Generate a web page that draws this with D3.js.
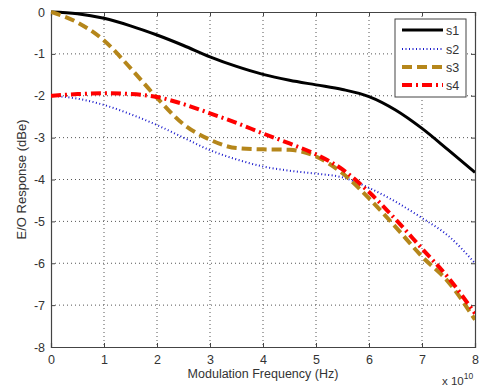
<!DOCTYPE html>
<html>
<head>
<meta charset="utf-8">
<script src="https://cdn.jsdelivr.net/npm/d3@7"></script>
<style>
  body { margin: 0; background: #fff; }
  svg { display: block; font-family: "Liberation Sans", Arial, sans-serif; }
</style>
</head>
<body>
<script>
// frequency in units of 1e10 Hz
const freq = [0, 0.5, 1, 1.5, 2, 2.5, 3, 3.5, 4, 4.5, 5, 5.5, 6, 6.5, 7, 7.5, 8];
const s1 = [0, -0.04, -0.15, -0.33, -0.55, -0.8, -1.07, -1.3, -1.49, -1.63, -1.74, -1.85, -2.02, -2.34, -2.78, -3.3, -3.83];
const s2 = [-2, -2.07, -2.22, -2.44, -2.7, -3.0, -3.3, -3.52, -3.69, -3.79, -3.86, -3.95, -4.2, -4.53, -4.92, -5.35, -6.0];
const s3 = [0, -0.25, -0.68, -1.34, -2.05, -2.68, -3.05, -3.25, -3.28, -3.29, -3.45, -3.85, -4.45, -5.13, -5.84, -6.45, -7.35];
const s4 = [-2, -1.96, -1.94, -1.96, -2.03, -2.2, -2.42, -2.65, -2.9, -3.14, -3.4, -3.76, -4.3, -4.95, -5.65, -6.35, -7.2];
const seriesNames = ['s1', 's2', 's3', 's4'];
const xTicks = [0, 1, 2, 3, 4, 5, 6, 7, 8];
const yTicks = [0, -1, -2, -3, -4, -5, -6, -7, -8];

const W = 483, H = 387;
const pL = 51, pR = 475, pT = 12, pB = 347;

const svg = d3.select('body').append('svg').attr('width', W).attr('height', H);

const x = d3.scaleLinear().domain([0, 8]).range([pL, pR]);
const y = d3.scaleLinear().domain([-8, 0]).range([pB, pT]);

const textColor = '#333';
const axisColor = '#444';

// grid
const grid = svg.append('g');
grid.selectAll('.gx').data(xTicks.slice(1, -1)).enter().append('line')
  .attr('x1', d => x(d)).attr('x2', d => x(d))
  .attr('y1', pT).attr('y2', pB)
  .style('stroke', '#555').style('stroke-width', 1).style('stroke-dasharray', '1,3');
grid.selectAll('.gy').data(yTicks.slice(1, -1)).enter().append('line')
  .attr('x1', pL).attr('x2', pR)
  .attr('y1', d => y(d)).attr('y2', d => y(d))
  .style('stroke', '#555').style('stroke-width', 1).style('stroke-dasharray', '1,3');

// axes (ticks inward)
const xAxis = svg.append('g').attr('transform', `translate(0,${pB})`)
  .call(d3.axisBottom(x).tickValues(xTicks).tickSize(-4).tickPadding(8).tickFormat(d3.format('d')));
const xAxisTop = svg.append('g').attr('transform', `translate(0,${pT})`)
  .call(d3.axisTop(x).tickValues(xTicks).tickSize(-4).tickFormat(''));
const yAxis = svg.append('g').attr('transform', `translate(${pL},0)`)
  .call(d3.axisLeft(y).tickValues(yTicks).tickSize(-4).tickPadding(6).tickFormat(d => d));
const yAxisRight = svg.append('g').attr('transform', `translate(${pR},0)`)
  .call(d3.axisRight(y).tickValues(yTicks).tickSize(-4).tickFormat(''));

[xAxis, xAxisTop, yAxis, yAxisRight].forEach(g => {
  g.select('.domain').style('stroke', axisColor).style('stroke-width', 1.2);
  g.selectAll('.tick line').style('stroke', axisColor);
  g.selectAll('.tick text').style('fill', textColor).style('font-size', '12.5px')
    .style('font-family', '"Liberation Sans", Arial, sans-serif');
});

// series
const lineGen = ys => d3.line()
  .x((d, i) => x(freq[i]))
  .y(d => y(d))
  .curve(d3.curveMonotoneX)(ys);

const styles = [
  { data: s1, color: '#000000', width: 3, dash: null },
  { data: s2, color: '#1a1acc', width: 2, dash: '1,2.5' },
  { data: s3, color: '#b5861a', width: 4, dash: '10,5' },
  { data: s4, color: '#ff0000', width: 4, dash: '10,4,2,4' }
];

const plot = svg.append('g');
plot.append('clipPath').attr('id', 'clip').append('rect')
  .attr('x', pL).attr('y', pT - 2).attr('width', pR - pL).attr('height', pB - pT + 2);

plot.selectAll('path.series').data(styles).enter().append('path')
  .attr('class', 'series')
  .attr('clip-path', 'url(#clip)')
  .attr('d', d => lineGen(d.data))
  .style('fill', 'none')
  .style('stroke', d => d.color)
  .style('stroke-width', d => d.width)
  .style('stroke-dasharray', d => d.dash);

// legend
const legend = svg.append('g');
legend.append('rect').attr('x', 395).attr('y', 19).attr('width', 71).attr('height', 78)
  .style('fill', '#fff').style('stroke', axisColor).style('stroke-width', 1);
const rowY = [30, 49, 67, 85];
styles.forEach((s, i) => {
  legend.append('line')
    .attr('x1', 402).attr('x2', 443).attr('y1', rowY[i]).attr('y2', rowY[i])
    .style('stroke', s.color).style('stroke-width', s.width)
    .style('stroke-dasharray', s.dash);
  legend.append('text')
    .attr('x', 446).attr('y', rowY[i] + 4.5)
    .style('font-size', '12.5px').style('fill', textColor)
    .text(seriesNames[i]);
});

// labels
svg.append('text')
  .attr('x', (pL + pR) / 2).attr('y', 378)
  .attr('text-anchor', 'middle')
  .style('font-size', '12.5px').style('fill', textColor)
  .text('Modulation Frequency (Hz)');

svg.append('text')
  .attr('transform', `translate(26,${(pT + pB) / 2}) rotate(-90)`)
  .attr('text-anchor', 'middle')
  .style('font-size', '13px').style('fill', textColor)
  .text('E/O Response (dBe)');

const expo = svg.append('text')
  .attr('x', 442).attr('y', 385)
  .style('font-size', '11.5px').style('fill', textColor);
expo.append('tspan').text('x 10');
expo.append('tspan').attr('dy', -6).style('font-size', '8.5px').text('10');
</script>
</body>
</html>
